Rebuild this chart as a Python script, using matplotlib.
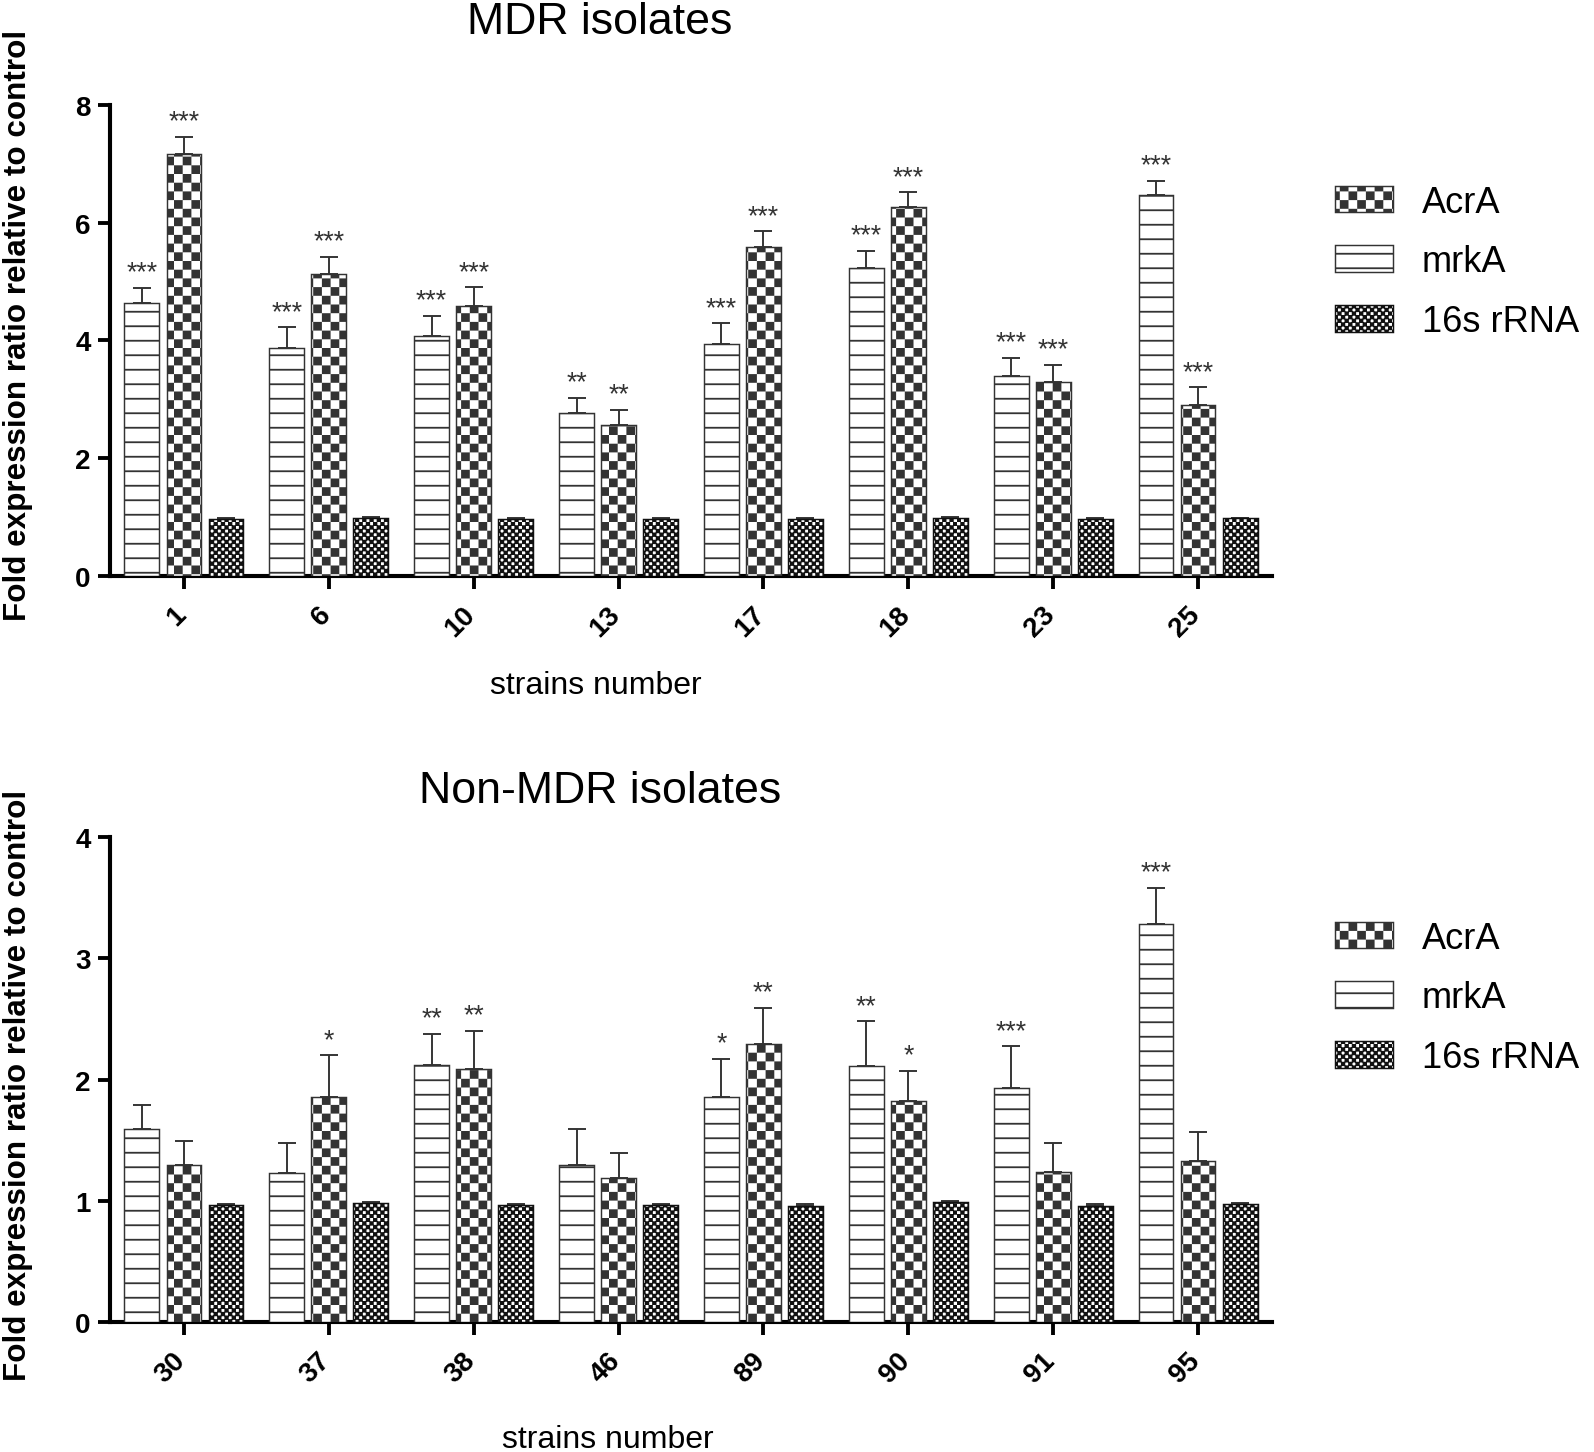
import warnings
import numpy as np
import matplotlib
matplotlib.use("Agg")
import matplotlib.pyplot as plt
import matplotlib.transforms as mtrans
from matplotlib import hatch as mhatch
from matplotlib.path import Path

warnings.filterwarnings("ignore")

# ---------------------------------------------------------------------------
# data
# ---------------------------------------------------------------------------
mdr_strains = ["1", "6", "10", "13", "17", "18", "23", "25"]
mdr_acra = [7.16, 5.13, 4.59, 2.57, 5.59, 6.26, 3.30, 2.90]
mdr_acra_err = [0.29, 0.29, 0.31, 0.25, 0.26, 0.25, 0.29, 0.30]
mdr_mrka = [4.64, 3.87, 4.07, 2.77, 3.94, 5.23, 3.39, 6.46]
mdr_mrka_err = [0.25, 0.35, 0.35, 0.25, 0.35, 0.29, 0.31, 0.25]
mdr_16s = [0.97, 0.985, 0.97, 0.97, 0.97, 0.985, 0.97, 0.98]
mdr_16s_err = [0.01, 0.01, 0.01, 0.01, 0.01, 0.01, 0.01, 0.01]
mdr_acra_sig = ["***", "***", "***", "**", "***", "***", "***", "***"]
mdr_mrka_sig = ["***", "***", "***", "**", "***", "***", "***", "***"]

non_strains = ["30", "37", "38", "46", "89", "90", "91", "95"]
non_acra = [1.295, 1.86, 2.09, 1.19, 2.29, 1.82, 1.235, 1.33]
non_acra_err = [0.195, 0.34, 0.31, 0.20, 0.30, 0.25, 0.245, 0.24]
non_mrka = [1.59, 1.23, 2.12, 1.295, 1.86, 2.115, 1.93, 3.285]
non_mrka_err = [0.20, 0.25, 0.26, 0.295, 0.31, 0.365, 0.345, 0.295]
non_16s = [0.965, 0.98, 0.965, 0.965, 0.96, 0.99, 0.96, 0.97]
non_16s_err = [0.01, 0.01, 0.01, 0.01, 0.01, 0.01, 0.01, 0.01]
non_acra_sig = ["", "*", "**", "", "**", "*", "", ""]
non_mrka_sig = ["", "", "**", "", "*", "**", "***", "***"]

# ---------------------------------------------------------------------------
# style
# ---------------------------------------------------------------------------
DPI = 87
INK = "#333333"
FONT = "Liberation Sans"
HATCH_LW = 1.5  # points

plt.rcParams.update({
    "font.family": FONT,
    "hatch.linewidth": HATCH_LW,
    "hatch.color": INK,
})


class CheckerHatch(mhatch.HatchPatternBase):
    """Damier plein : 'c' gros carreaux, 'k' petits carreaux."""
    sizes = {"c": 5, "k": 12}

    def __init__(self, hatch, density):
        self.num = 0
        for ch, n in self.sizes.items():
            if ch in hatch:
                self.num = n
        self.num_vertices = 2 * self.num ** 2 * 5

    def set_vertices_and_codes(self, vertices, codes):
        n = self.num
        cell = 1.0 / n
        half = cell / 2
        # compense le trait du hachurage (tuile = 1 pouce)
        shrink = HATCH_LW / 72 * (1.0 if n < 8 else 0.6)
        side = max(half - shrink, half * 0.4)
        pad = (half - side) / 2
        k = 0
        for i in range(n):
            for j in range(n):
                for ox, oy in ((0, 0), (half, half)):
                    x0 = i * cell + ox + pad
                    y0 = j * cell + oy + pad
                    vertices[k:k + 5] = [(x0, y0), (x0 + side, y0),
                                         (x0 + side, y0 + side),
                                         (x0, y0 + side), (x0, y0)]
                    codes[k:k + 5] = [Path.MOVETO, Path.LINETO, Path.LINETO,
                                      Path.LINETO, Path.CLOSEPOLY]
                    k += 5


mhatch._hatch_types.append(CheckerHatch)

W, H = 1594, 1453
fig = plt.figure(figsize=(W / DPI, H / DPI), dpi=DPI)

BAR_W = 0.24
OFF = 0.29


def fx(px):
    return px / W


def fy(py):
    return 1 - py / H


def panel(ax, strains, acra, acra_err, mrka, mrka_err, r16, r16_err,
          acra_sig, mrka_sig, ymax, yticks):
    x = np.arange(len(strains))
    b_mrka = ax.bar(x - OFF, mrka, BAR_W, facecolor="white", edgecolor=INK,
                    linewidth=1.2, hatch="-", zorder=3, label="mrkA")
    b_acra = ax.bar(x, acra, BAR_W, facecolor="white", edgecolor=INK,
                    linewidth=1.2, hatch="c", zorder=3, label="AcrA")
    b_16s = ax.bar(x + OFF, r16, BAR_W, facecolor="white", edgecolor="#111111",
                   linewidth=1.2, hatch="k", zorder=3, label="16s rRNA")
    for xs, vals, err in ((x - OFF, mrka, mrka_err), (x, acra, acra_err),
                          (x + OFF, r16, r16_err)):
        ax.errorbar(xs, vals, yerr=[np.zeros(len(vals)), err], fmt="none",
                    ecolor=INK, elinewidth=1.6, capsize=7.5, capthick=1.6,
                    zorder=2)
    for xs, vals, err, sig in ((x - OFF, mrka, mrka_err, mrka_sig),
                               (x, acra, acra_err, acra_sig)):
        for xi, v, e, s in zip(xs, vals, err, sig):
            if s:
                ax.annotate(s, (xi, v + e), xytext=(0, 7),
                            textcoords="offset points", ha="center",
                            va="baseline", fontsize=22, color=INK)
    ax.set_xlim(-0.51, 7.51)
    ax.set_ylim(0, ymax)
    ax.set_yticks(yticks)
    ax.set_xticks(x)
    ax.set_xticklabels(strains, rotation=45, ha="right")
    for side in ("top", "right"):
        ax.spines[side].set_visible(False)
    for side in ("left", "bottom"):
        ax.spines[side].set_linewidth(3.4)
        ax.spines[side].set_color("black")
    ax.tick_params(axis="y", length=10, width=3.2, pad=6, labelsize=23)
    ax.tick_params(axis="x", length=11, width=3.2, pad=10, labelsize=23)
    shift = mtrans.ScaledTranslation(7 / DPI, 0, fig.dpi_scale_trans)
    for lab in ax.get_xticklabels():
        lab.set_fontweight("bold")
        lab.set_transform(lab.get_transform() + shift)
    for lab in ax.get_yticklabels():
        lab.set_fontweight("bold")
    return b_acra, b_mrka, b_16s


def legend(handles, y_top):
    fig.legend(handles, ["AcrA", "mrkA", "16s rRNA"], loc="upper left",
               bbox_to_anchor=(fx(1302), fy(y_top)), frameon=False,
               fontsize=30, handlelength=1.6, handleheight=0.75,
               handletextpad=0.8, labelspacing=0.68)


ax1 = fig.add_axes([fx(110), fy(577), fx(1272) - fx(110), fy(105.7) - fy(577)])
h1 = panel(ax1, mdr_strains, mdr_acra, mdr_acra_err, mdr_mrka, mdr_mrka_err,
           mdr_16s, mdr_16s_err, mdr_acra_sig, mdr_mrka_sig, 8, [0, 2, 4, 6, 8])
legend(h1, 153)

ax2 = fig.add_axes([fx(110), fy(1322.8), fx(1272) - fx(110),
                    fy(838.3) - fy(1322.8)])
h2 = panel(ax2, non_strains, non_acra, non_acra_err, non_mrka, non_mrka_err,
           non_16s, non_16s_err, non_acra_sig, non_mrka_sig, 4, [0, 1, 2, 3, 4])
legend(h2, 889)

# titres et libelles
fig.text(fx(600), fy(23), "MDR isolates", fontsize=37, ha="center",
         va="center")
fig.text(fx(600), fy(792), "Non-MDR isolates", fontsize=37, ha="center",
         va="center")
fig.text(fx(596), fy(686), "strains number", fontsize=26.5, ha="center",
         va="center")
fig.text(fx(608), fy(1440), "strains number", fontsize=26.5, ha="center",
         va="center")
ylab = "Fold expression ratio relative to control"
fig.text(fx(18), fy(325), ylab, fontsize=26, fontweight="bold",
         rotation=90, ha="center", va="center")
fig.text(fx(18), fy(1085), ylab, fontsize=26, fontweight="bold",
         rotation=90, ha="center", va="center")

fig.savefig("out.png", dpi=DPI, facecolor="white")
